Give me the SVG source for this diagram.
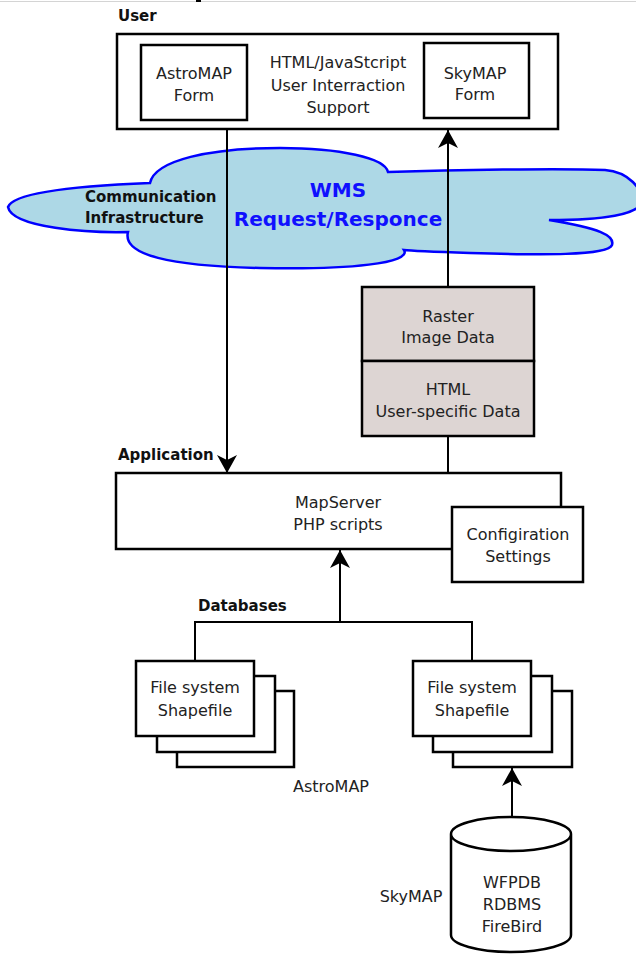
<svg xmlns="http://www.w3.org/2000/svg" width="636" height="955" viewBox="0 0 636 955">
<style>
.box{fill:#fff;stroke:#000;stroke-width:2.5}
.shade{fill:#ddd5d3;stroke:#000;stroke-width:2.5}
.t{font-family:"DejaVu Sans",Verdana,sans-serif;font-size:16px;fill:#222;text-anchor:middle}
.b{font-family:"DejaVu Sans",Verdana,sans-serif;font-size:15px;font-weight:bold;fill:#111}
.wms{font-family:"DejaVu Sans",Verdana,sans-serif;font-size:20px;font-weight:bold;fill:#1010ff;text-anchor:middle}
.con{fill:none;stroke:#000;stroke-width:2}
</style>
<defs>
<marker id="arr" markerUnits="userSpaceOnUse" markerWidth="20" markerHeight="20" viewBox="0 0 18 20" refX="18" refY="10" orient="auto">
<path d="M0,0 L18,10 L0,20 L5,10 Z" fill="#000"/>
</marker>
</defs>
<rect width="636" height="955" fill="#fff"/>
<line x1="0" y1="1.5" x2="636" y2="1.5" stroke="#d4d4d4" stroke-width="1"/>
<rect x="196" y="0" width="5" height="2" fill="#000"/>

<g id="user">
<text class="b" x="118" y="21">User</text>
<rect class="box" x="117" y="34" width="441" height="95"/>
<text class="t" x="338" y="68">HTML/JavaStcript</text>
<text class="t" x="338" y="91">User Interraction</text>
<text class="t" x="338" y="113">Support</text>
</g>
<g id="astromap-form">
<rect class="box" x="141" y="45" width="106" height="75"/>
<text class="t" x="194" y="79">AstroMAP</text>
<text class="t" x="194" y="101">Form</text>
</g>
<g id="skymap-form">
<rect class="box" x="424" y="43" width="105" height="75"/>
<text class="t" x="475" y="79">SkyMAP</text>
<text class="t" x="475" y="100">Form</text>
</g>

<g id="cloud">
<path d="M8,207 C14,190 100,185 150,183 C155,160 210,148 280,148 C340,148 385,158 388,172 C450,170 560,168 605,170 C630,172 642,190 642,200 C642,215 600,220 549,220 C600,228 615,236 612,245 C608,256 540,255 470,253 C440,252 412,251 404,250 C412,263 350,270 260,268 C170,266 122,255 128,232 C90,233 12,228 8,207 Z" fill="#add8e6" stroke="#0000ff" stroke-width="2.5"/>
<text class="b" x="85" y="202">Communication</text>
<text class="b" x="85" y="223">Infrastructure</text>
<text class="wms" x="338" y="197">WMS</text>
<text class="wms" x="338" y="226">Request/Responce</text>
</g>

<g id="data">
<rect class="shade" x="362" y="287" width="172" height="74"/>
<rect class="shade" x="362" y="361" width="172" height="75"/>
<text class="t" x="448" y="322">Raster</text>
<text class="t" x="448" y="343">Image Data</text>
<text class="t" x="448" y="395">HTML</text>
<text class="t" x="448" y="417">User-specific Data</text>
</g>

<g id="application">
<text class="b" x="118" y="460">Application</text>
<rect class="box" x="116" y="473" width="445" height="76"/>
<text class="t" x="338" y="508">MapServer</text>
<text class="t" x="338" y="530">PHP scripts</text>
</g>
<g id="config">
<rect class="box" x="452" y="507" width="131" height="75"/>
<text class="t" x="518" y="540">Configiration</text>
<text class="t" x="518" y="562">Settings</text>
</g>

<g id="databases">
<text class="b" x="198" y="611">Databases</text>
</g>
<g id="astromap-files">
<rect class="box" x="177" y="691" width="117" height="76"/>
<rect class="box" x="157" y="676" width="118" height="76"/>
<rect class="box" x="136" y="661" width="118" height="75"/>
<text class="t" x="195" y="693">File system</text>
<text class="t" x="195" y="716">Shapefile</text>
<text class="t" x="331" y="792">AstroMAP</text>
</g>
<g id="skymap-files">
<rect class="box" x="453" y="691" width="119" height="76"/>
<rect class="box" x="433" y="676" width="119" height="76"/>
<rect class="box" x="413" y="661" width="118" height="75"/>
<text class="t" x="472" y="693">File system</text>
<text class="t" x="472" y="716">Shapefile</text>
</g>
<g id="skymap-db">
<path class="box" d="M451,834 L451,935 A60,17 0 0 0 571,935 L571,834 A60,17 0 0 0 451,834 A60,17 0 0 0 571,834"/>
<text class="t" x="512" y="888">WFPDB</text>
<text class="t" x="512" y="910">RDBMS</text>
<text class="t" x="512" y="932">FireBird</text>
<text class="t" x="411" y="902">SkyMAP</text>
</g>

<g id="connectors">
<line class="con" x1="227" y1="129" x2="227" y2="473" marker-end="url(#arr)"/>
<line class="con" x1="448" y1="287" x2="448" y2="130" marker-end="url(#arr)"/>
<line class="con" x1="448" y1="436" x2="448" y2="473"/>
<line class="con" x1="340" y1="622" x2="340" y2="550" marker-end="url(#arr)"/>
<path class="con" d="M195,661 V622 H472 V661"/>
<line class="con" x1="512" y1="817" x2="512" y2="768" marker-end="url(#arr)"/>
</g>
</svg>
